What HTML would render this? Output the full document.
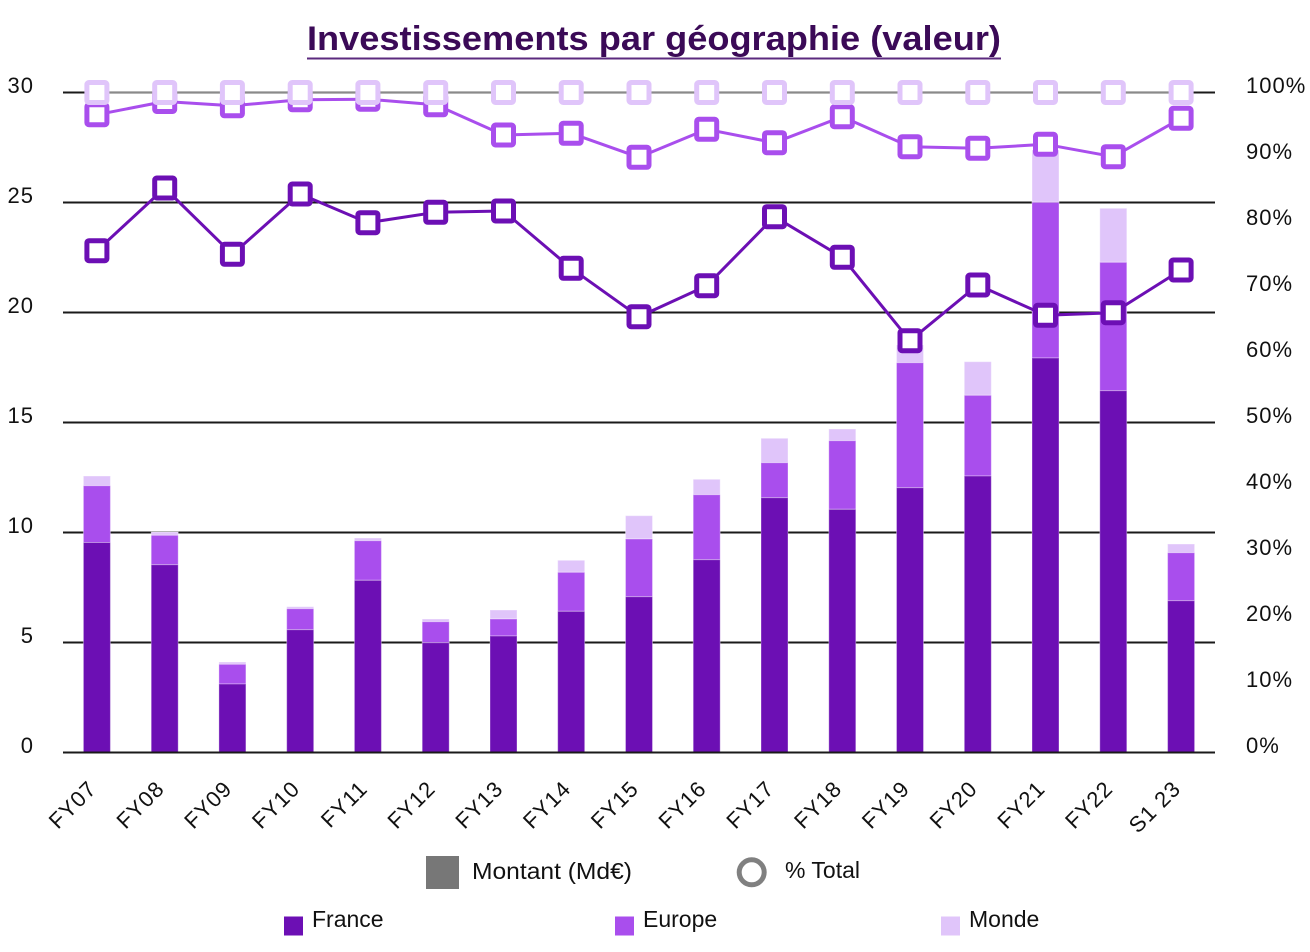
<!DOCTYPE html>
<html>
<head>
<meta charset="utf-8">
<style>
  html,body{margin:0;padding:0;background:#fff;}
  svg{display:block;}
  .tick{font-family:"Liberation Sans",sans-serif;font-size:22px;fill:#111;letter-spacing:1px;}
  .leg{font-family:"Liberation Sans",sans-serif;font-size:23px;fill:#111;}
</style>
</head>
<body>
<svg width="1310" height="952" viewBox="0 0 1310 952" xmlns="http://www.w3.org/2000/svg">
  <rect x="0" y="0" width="1310" height="952" fill="#fff"/>

  <text x="307" y="50" textLength="694" lengthAdjust="spacingAndGlyphs" font-family="'Liberation Sans',sans-serif" font-weight="bold" font-size="34" fill="#3b0a57">Investissements par géographie (valeur)</text>
  <line x1="307" y1="58.5" x2="1001" y2="58.5" stroke="#5b2a7e" stroke-width="2"/>

  <g stroke="#1a1a1a" stroke-width="2">
    <line x1="63" y1="92.5" x2="1215" y2="92.5"/>
    <line x1="63" y1="202.5" x2="1215" y2="202.5"/>
    <line x1="63" y1="312.5" x2="1215" y2="312.5"/>
    <line x1="63" y1="422.5" x2="1215" y2="422.5"/>
    <line x1="63" y1="532.5" x2="1215" y2="532.5"/>
    <line x1="63" y1="642.5" x2="1215" y2="642.5"/>
  </g>

  <g class="tick" text-anchor="end">
    <text x="34" y="93">30</text>
    <text x="34" y="203">25</text>
    <text x="34" y="313">20</text>
    <text x="34" y="423">15</text>
    <text x="34" y="533">10</text>
    <text x="34" y="643">5</text>
    <text x="34" y="753">0</text>
  </g>

  <g class="tick" text-anchor="start">
    <text x="1246" y="93">100%</text>
    <text x="1246" y="159">90%</text>
    <text x="1246" y="225">80%</text>
    <text x="1246" y="291">70%</text>
    <text x="1246" y="357">60%</text>
    <text x="1246" y="423">50%</text>
    <text x="1246" y="489">40%</text>
    <text x="1246" y="555">30%</text>
    <text x="1246" y="621">20%</text>
    <text x="1246" y="687">10%</text>
    <text x="1246" y="753">0%</text>
  </g>

  <g stroke="#ffffff" stroke-opacity="0.35" stroke-width="1">
    <rect x="83.4" y="476" width="27" height="9.7" fill="#e0c5fa"/>
    <rect x="83.4" y="485.7" width="27" height="56.8" fill="#a94eed"/>
    <rect x="83.4" y="542.5" width="27" height="210" fill="#6c0fb4"/>
    <rect x="151.2" y="532" width="27" height="3.3" fill="#e0c5fa"/>
    <rect x="151.2" y="535.3" width="27" height="29.4" fill="#a94eed"/>
    <rect x="151.2" y="564.7" width="27" height="187.8" fill="#6c0fb4"/>
    <rect x="218.9" y="662" width="27" height="2.3" fill="#e0c5fa"/>
    <rect x="218.9" y="664.3" width="27" height="19.7" fill="#a94eed"/>
    <rect x="218.9" y="684" width="27" height="68.5" fill="#6c0fb4"/>
    <rect x="286.7" y="606.7" width="27" height="2" fill="#e0c5fa"/>
    <rect x="286.7" y="608.7" width="27" height="21" fill="#a94eed"/>
    <rect x="286.7" y="629.7" width="27" height="122.8" fill="#6c0fb4"/>
    <rect x="354.4" y="538" width="27" height="2.7" fill="#e0c5fa"/>
    <rect x="354.4" y="540.7" width="27" height="39.6" fill="#a94eed"/>
    <rect x="354.4" y="580.3" width="27" height="172.2" fill="#6c0fb4"/>
    <rect x="422.2" y="619" width="27" height="2.7" fill="#e0c5fa"/>
    <rect x="422.2" y="621.7" width="27" height="21" fill="#a94eed"/>
    <rect x="422.2" y="642.7" width="27" height="109.8" fill="#6c0fb4"/>
    <rect x="490" y="610" width="27" height="9" fill="#e0c5fa"/>
    <rect x="490" y="619" width="27" height="17" fill="#a94eed"/>
    <rect x="490" y="636" width="27" height="116.5" fill="#6c0fb4"/>
    <rect x="557.7" y="560.3" width="27" height="12" fill="#e0c5fa"/>
    <rect x="557.7" y="572.3" width="27" height="39" fill="#a94eed"/>
    <rect x="557.7" y="611.3" width="27" height="141.2" fill="#6c0fb4"/>
    <rect x="625.5" y="515.7" width="27" height="23.3" fill="#e0c5fa"/>
    <rect x="625.5" y="539" width="27" height="57.7" fill="#a94eed"/>
    <rect x="625.5" y="596.7" width="27" height="155.8" fill="#6c0fb4"/>
    <rect x="693.2" y="479.3" width="27" height="15.4" fill="#e0c5fa"/>
    <rect x="693.2" y="494.7" width="27" height="65" fill="#a94eed"/>
    <rect x="693.2" y="559.7" width="27" height="192.8" fill="#6c0fb4"/>
    <rect x="761" y="438.3" width="27" height="24.4" fill="#e0c5fa"/>
    <rect x="761" y="462.7" width="27" height="35" fill="#a94eed"/>
    <rect x="761" y="497.7" width="27" height="254.8" fill="#6c0fb4"/>
    <rect x="828.8" y="429" width="27" height="11.7" fill="#e0c5fa"/>
    <rect x="828.8" y="440.7" width="27" height="68.6" fill="#a94eed"/>
    <rect x="828.8" y="509.3" width="27" height="243.2" fill="#6c0fb4"/>
    <rect x="896.5" y="345" width="27" height="17.7" fill="#e0c5fa"/>
    <rect x="896.5" y="362.7" width="27" height="125" fill="#a94eed"/>
    <rect x="896.5" y="487.7" width="27" height="264.8" fill="#6c0fb4"/>
    <rect x="964.3" y="361.7" width="27" height="33.6" fill="#e0c5fa"/>
    <rect x="964.3" y="395.3" width="27" height="80.7" fill="#a94eed"/>
    <rect x="964.3" y="476" width="27" height="276.5" fill="#6c0fb4"/>
    <rect x="1032" y="150" width="27" height="52.3" fill="#e0c5fa"/>
    <rect x="1032" y="202.3" width="27" height="155.7" fill="#a94eed"/>
    <rect x="1032" y="358" width="27" height="394.5" fill="#6c0fb4"/>
    <rect x="1099.8" y="208.3" width="27" height="54" fill="#e0c5fa"/>
    <rect x="1099.8" y="262.3" width="27" height="128.4" fill="#a94eed"/>
    <rect x="1099.8" y="390.7" width="27" height="361.8" fill="#6c0fb4"/>
    <rect x="1167.6" y="544" width="27" height="8.7" fill="#e0c5fa"/>
    <rect x="1167.6" y="552.7" width="27" height="48" fill="#a94eed"/>
    <rect x="1167.6" y="600.7" width="27" height="151.8" fill="#6c0fb4"/>
  </g>

  <line x1="63" y1="752.5" x2="1215" y2="752.5" stroke="#1a1a1a" stroke-width="2"/>

  <polyline fill="none" stroke="#6c0fb4" stroke-width="3" stroke-linejoin="round"
    points="96.9,250.7 164.7,188 232.4,254.3 300.2,194 367.9,222.7 435.7,212.3 503.5,211 571.2,268.3 639,316.7 706.7,285.7 774.5,216.7 842.3,257.3 910,340.7 977.8,285 1045.5,315.3 1113.3,312.7 1181.1,270"/>
  <g fill="#fff" stroke="#6c0fb4" stroke-width="5">
    <rect x="86.9" y="240.7" width="20" height="20" rx="2"/>
    <rect x="154.7" y="178" width="20" height="20" rx="2"/>
    <rect x="222.4" y="244.3" width="20" height="20" rx="2"/>
    <rect x="290.2" y="184" width="20" height="20" rx="2"/>
    <rect x="357.9" y="212.7" width="20" height="20" rx="2"/>
    <rect x="425.7" y="202.3" width="20" height="20" rx="2"/>
    <rect x="493.5" y="201" width="20" height="20" rx="2"/>
    <rect x="561.2" y="258.3" width="20" height="20" rx="2"/>
    <rect x="629" y="306.7" width="20" height="20" rx="2"/>
    <rect x="696.7" y="275.7" width="20" height="20" rx="2"/>
    <rect x="764.5" y="206.7" width="20" height="20" rx="2"/>
    <rect x="832.3" y="247.3" width="20" height="20" rx="2"/>
    <rect x="900" y="330.7" width="20" height="20" rx="2"/>
    <rect x="967.8" y="275" width="20" height="20" rx="2"/>
    <rect x="1035.5" y="305.3" width="20" height="20" rx="2"/>
    <rect x="1103.3" y="302.7" width="20" height="20" rx="2"/>
    <rect x="1171.1" y="260" width="20" height="20" rx="2"/>
  </g>

  <polyline fill="none" stroke="#a94eed" stroke-width="3" stroke-linejoin="round"
    points="96.9,114.7 164.7,101.5 232.4,105.8 300.2,99.8 367.9,99.2 435.7,104.8 503.5,135 571.2,133.3 639,157.3 706.7,129.3 774.5,142.7 842.3,116.7 910,146.7 977.8,148.3 1045.5,144.3 1113.3,156.7 1181.1,118.3"/>
  <g fill="#fff" stroke="#a94eed" stroke-width="5">
    <rect x="86.9" y="104.7" width="20" height="20" rx="2"/>
    <rect x="154.7" y="91.5" width="20" height="20" rx="2"/>
    <rect x="222.4" y="95.8" width="20" height="20" rx="2"/>
    <rect x="290.2" y="89.8" width="20" height="20" rx="2"/>
    <rect x="357.9" y="89.2" width="20" height="20" rx="2"/>
    <rect x="425.7" y="94.8" width="20" height="20" rx="2"/>
    <rect x="493.5" y="125" width="20" height="20" rx="2"/>
    <rect x="561.2" y="123.3" width="20" height="20" rx="2"/>
    <rect x="629" y="147.3" width="20" height="20" rx="2"/>
    <rect x="696.7" y="119.3" width="20" height="20" rx="2"/>
    <rect x="764.5" y="132.7" width="20" height="20" rx="2"/>
    <rect x="832.3" y="106.7" width="20" height="20" rx="2"/>
    <rect x="900" y="136.7" width="20" height="20" rx="2"/>
    <rect x="967.8" y="138.3" width="20" height="20" rx="2"/>
    <rect x="1035.5" y="134.3" width="20" height="20" rx="2"/>
    <rect x="1103.3" y="146.7" width="20" height="20" rx="2"/>
    <rect x="1171.1" y="108.3" width="20" height="20" rx="2"/>
  </g>

  <line x1="96.9" y1="92.5" x2="1181.1" y2="92.5" stroke="#8a8a8a" stroke-width="2.2"/>
  <g fill="#fff" stroke="#e0c5fa" stroke-width="5">
    <rect x="86.9" y="82.5" width="20" height="20" rx="2"/>
    <rect x="154.7" y="82.5" width="20" height="20" rx="2"/>
    <rect x="222.4" y="82.5" width="20" height="20" rx="2"/>
    <rect x="290.2" y="82.5" width="20" height="20" rx="2"/>
    <rect x="357.9" y="82.5" width="20" height="20" rx="2"/>
    <rect x="425.7" y="82.5" width="20" height="20" rx="2"/>
    <rect x="493.5" y="82.5" width="20" height="20" rx="2"/>
    <rect x="561.2" y="82.5" width="20" height="20" rx="2"/>
    <rect x="629" y="82.5" width="20" height="20" rx="2"/>
    <rect x="696.7" y="82.5" width="20" height="20" rx="2"/>
    <rect x="764.5" y="82.5" width="20" height="20" rx="2"/>
    <rect x="832.3" y="82.5" width="20" height="20" rx="2"/>
    <rect x="900" y="82.5" width="20" height="20" rx="2"/>
    <rect x="967.8" y="82.5" width="20" height="20" rx="2"/>
    <rect x="1035.5" y="82.5" width="20" height="20" rx="2"/>
    <rect x="1103.3" y="82.5" width="20" height="20" rx="2"/>
    <rect x="1171.1" y="82.5" width="20" height="20" rx="2"/>
  </g>

  <g class="tick" text-anchor="end">
    <text x="97.9" y="790" transform="rotate(-45 97.9 790)">FY07</text>
    <text x="165.7" y="790" transform="rotate(-45 165.7 790)">FY08</text>
    <text x="233.4" y="790" transform="rotate(-45 233.4 790)">FY09</text>
    <text x="301.2" y="790" transform="rotate(-45 301.2 790)">FY10</text>
    <text x="368.9" y="790" transform="rotate(-45 368.9 790)">FY11</text>
    <text x="436.7" y="790" transform="rotate(-45 436.7 790)">FY12</text>
    <text x="504.5" y="790" transform="rotate(-45 504.5 790)">FY13</text>
    <text x="572.2" y="790" transform="rotate(-45 572.2 790)">FY14</text>
    <text x="640" y="790" transform="rotate(-45 640 790)">FY15</text>
    <text x="707.7" y="790" transform="rotate(-45 707.7 790)">FY16</text>
    <text x="775.5" y="790" transform="rotate(-45 775.5 790)">FY17</text>
    <text x="843.3" y="790" transform="rotate(-45 843.3 790)">FY18</text>
    <text x="911" y="790" transform="rotate(-45 911 790)">FY19</text>
    <text x="978.8" y="790" transform="rotate(-45 978.8 790)">FY20</text>
    <text x="1046.5" y="790" transform="rotate(-45 1046.5 790)">FY21</text>
    <text x="1114.3" y="790" transform="rotate(-45 1114.3 790)">FY22</text>
    <text x="1182.1" y="790" transform="rotate(-45 1182.1 790)">S1 23</text>
  </g>

  <rect x="426" y="856" width="33" height="33" fill="#777777"/>
  <text class="leg" x="472" y="879" textLength="160" lengthAdjust="spacingAndGlyphs">Montant (Md€)</text>
  <circle cx="751.7" cy="872.3" r="12.5" fill="#fff" stroke="#808080" stroke-width="5"/>
  <text class="leg" x="785" y="878">% Total</text>

  <rect x="284" y="916.5" width="19" height="19" fill="#6c0fb4"/>
  <text class="leg" x="312" y="927">France</text>
  <rect x="615" y="916.5" width="19" height="19" fill="#a94eed"/>
  <text class="leg" x="643" y="927">Europe</text>
  <rect x="941" y="916.5" width="19" height="19" fill="#e0c5fa"/>
  <text class="leg" x="969" y="927">Monde</text>
</svg>
</body>
</html>
